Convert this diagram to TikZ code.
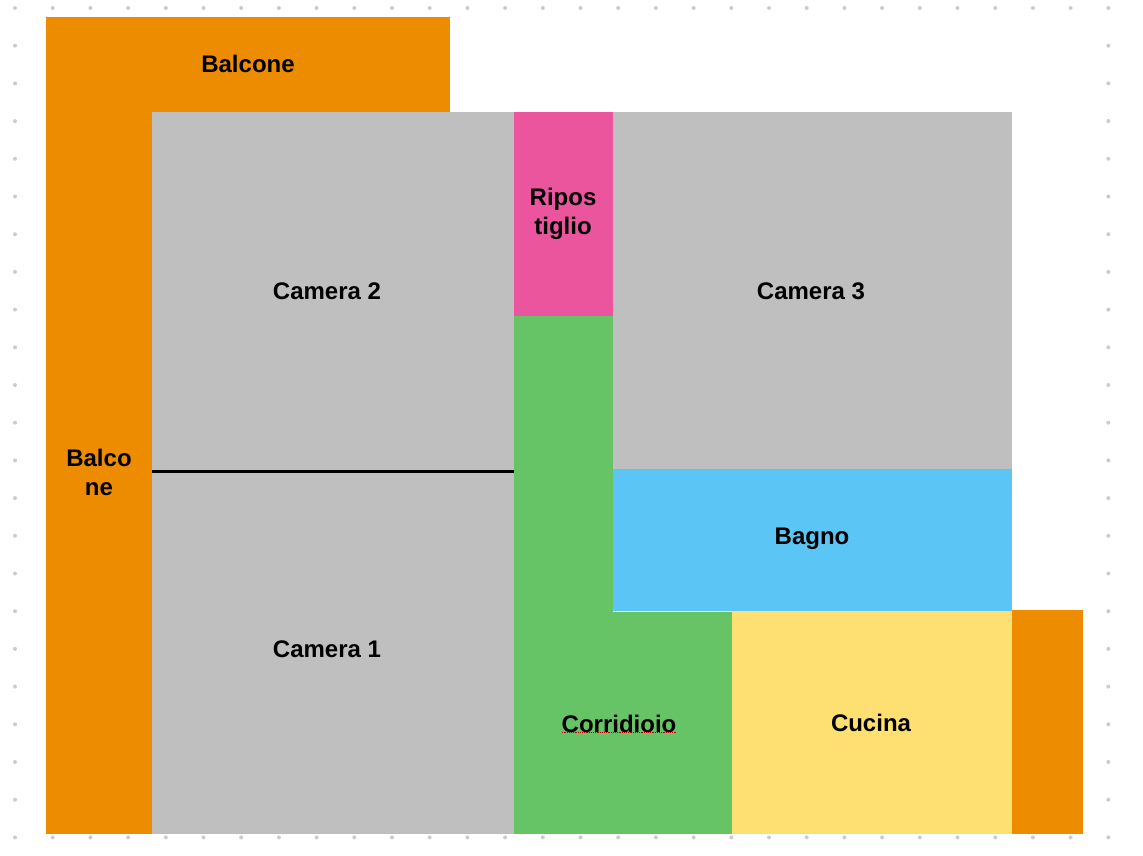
\documentclass[tikz,border=0pt]{standalone}
\usepackage{fontspec}
\setmainfont{Liberation Sans}
\definecolor{balcony}{HTML}{EE8C00}
\definecolor{roomgray}{HTML}{BFBFBF}
\definecolor{storage}{HTML}{EA559E}
\definecolor{hall}{HTML}{66C466}
\definecolor{bath}{HTML}{5BC6F5}
\definecolor{kitchen}{HTML}{FEDF72}
\tikzset{
    room/.style={draw=none}, % filled room blocks
    label/.style={font=\bfseries\fontsize{24}{29}\selectfont, align=center},
}
\begin{document}
\begin{tikzpicture}[x=1pt, y=-1pt]
    \useasboundingbox (0,0) rectangle (1143,856);
    % dot grid
    \foreach \i in {0,...,29}
        \foreach \j in {0,...,22}
            \fill[gray!40] (15+37.7*\i, 8+37.7*\j) circle (2);
    \fill[white] (46,17) rectangle (1083,834);
    % rooms
    \fill[balcony] (46,17) rectangle (450,112);
    \fill[balcony] (46,17) rectangle (152,834);
    \fill[roomgray] (152,112) rectangle (514,834);
    \fill[storage] (514,112) rectangle (613,316);
    \fill[hall] (514,316) rectangle (613,612);
    \fill[hall] (514,612) rectangle (732,834);
    \fill[roomgray] (613,112) rectangle (1012,469);
    \fill[bath] (613,469) rectangle (1012,611);
    \fill[kitchen] (732,611) rectangle (1012,834);
    \fill[balcony] (1012,610) rectangle (1083,834);
    \draw[line width=3pt] (152,471) -- (514,471);
    % labels
    \node[label] (balctop) at (248,64) {Balcone};
    \node[label] (balcleft) at (99,472) {Balco\\ne};
    \node[label] (cam2) at (327,291) {Camera 2};
    \node[label] (cam1) at (327,649) {Camera 1};
    \node[label] (rip) at (563,214) {Ripos\\tiglio};
    \node[label] (cam3) at (811,291) {Camera 3};
    \node[label] (bagno) at (812,539) {Bagno};
    \node[label] (corr) at (619,724) {Corridioio};
    \node[label] (cucina) at (871,723) {Cucina};
    \draw[red!70!black, densely dotted, line width=1.2pt] (corr.south west)+(4,-4) -- ([xshift=-4pt,yshift=4pt]corr.south east);
\end{tikzpicture}
\end{document}
